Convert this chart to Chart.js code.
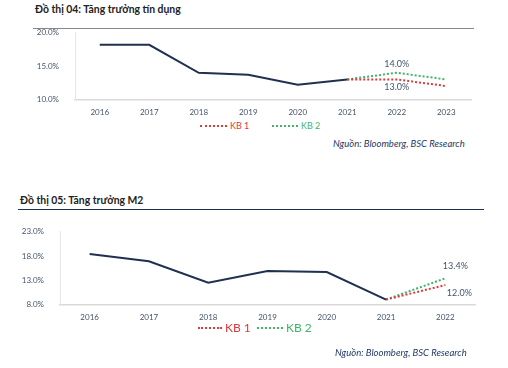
<!DOCTYPE html>
<html><head><meta charset="utf-8">
<script src="https://cdn.jsdelivr.net/npm/chart.js@4"></script>
<style>
html,body{margin:0;padding:0;background:#fff;width:508px;height:368px;overflow:hidden;font-family:Lato,"Open Sans",sans-serif;}
.abs{position:absolute;}
.title{font-weight:bold;font-size:10.4px;color:#222;}
.rule{height:1px;background:#555;}
.src{font-style:italic;font-size:9.5px;color:#1f3864;white-space:nowrap;}
.leg{font-size:9px;display:flex;align-items:center;white-space:nowrap;}
.dash{display:inline-block;border-top:2px dotted;margin-right:3px;}
canvas{display:block;}
</style></head>
<body>
<div class="abs title" style="left:35px;top:3px;">Đồ thị 04: Tăng trưởng tín dụng</div>
<div class="abs rule" style="left:33px;top:28px;width:441px;background:#888;"></div>
<div class="abs" style="left:0;top:20px;width:508px;height:97px;"><canvas id="c1" width="508" height="97"></canvas></div>
<div class="abs leg" style="left:200px;top:120px;color:#e0393b;"><span class="dash" style="width:27px;border-color:#e0393b;"></span>KB 1</div>
<div class="abs leg" style="left:272px;top:120px;color:#3fb46a;"><span class="dash" style="width:26px;border-color:#3fb46a;"></span>KB 2</div>
<div class="abs src" style="left:333px;top:138px;">Nguồn: Bloomberg, BSC Research</div>

<div class="abs title" style="left:20px;top:194px;">Đồ thị 05: Tăng trưởng M2</div>
<div class="abs rule" style="left:18px;top:209px;width:466px;background:#1f3050;"></div>
<div class="abs" style="left:0;top:219px;width:508px;height:103px;"><canvas id="c2" width="508" height="103"></canvas></div>
<div class="abs leg" style="left:198px;top:320px;color:#e0393b;font-size:12px;"><span class="dash" style="width:24px;border-color:#e0393b;"></span>KB 1</div>
<div class="abs leg" style="left:257px;top:320px;color:#3fb46a;font-size:12px;"><span class="dash" style="width:26px;border-color:#3fb46a;"></span>KB 2</div>
<div class="abs src" style="left:335px;top:347px;">Nguồn: Bloomberg, BSC Research</div>

<script>
// Chart 04: credit growth (%)
const years1 = ["2016","2017","2018","2019","2020","2021","2022","2023"];
const credit = [18.2, 18.2, 14.0, 13.7, 12.2, 13.0, null, null];
const credit_kb1 = [null, null, null, null, null, 13.0, 13.0, 12.0];
const credit_kb2 = [null, null, null, null, null, 13.0, 14.0, 13.0];
const ticks1 = [10, 15, 20];

// Chart 05: M2 growth (%)
const years2 = ["2016","2017","2018","2019","2020","2021","2022"];
const m2 = [18.4, 16.9, 12.5, 14.9, 14.7, 9.0, null];
const m2_kb1 = [null, null, null, null, null, 9.0, 12.0];
const m2_kb2 = [null, null, null, null, null, 9.0, 13.4];
const ticks2 = [8, 13, 18, 23];

const NAVY = "#1f3050", RED = "#e0393b", GREEN = "#3fb46a", AXT = "#44546a";
Chart.defaults.font.family = "Lato, 'Open Sans', sans-serif";
Chart.defaults.animation = false;

const labelPlugin = {
  id: "ptlabels",
  afterDatasetsDraw(chart, args, opts) {
    const ctx = chart.ctx;
    ctx.save();
    ctx.font = "9px Lato, 'Open Sans', sans-serif";
    ctx.fillStyle = AXT;
    ctx.textAlign = "center";
    ctx.textBaseline = "middle";
    (opts.items || []).forEach(it => {
      const meta = chart.getDatasetMeta(it.ds);
      const el = meta.data[it.i];
      const v = chart.data.datasets[it.ds].data[it.i];
      ctx.fillText(v.toFixed(1) + "%", el.x + it.dx, el.y + it.dy);
    });
    ctx.restore();
  }
};

function makeChart(id, labels, main, kb1, kb2, tks, yw, padR, padT, items) {
  return new Chart(document.getElementById(id), {
    type: "line",
    data: {
      labels,
      datasets: [
        {data: main, borderColor: NAVY, borderWidth: 2, pointRadius: 0, tension: 0},
        {data: kb1, borderColor: RED, borderWidth: 2, borderDash: [2, 2], pointRadius: 0},
        {data: kb2, borderColor: GREEN, borderWidth: 2, borderDash: [2, 2], pointRadius: 0}
      ]
    },
    options: {
      responsive: false,
      layout: {padding: {top: padT, right: padR, left: 0, bottom: 0}},
      plugins: {legend: {display: false}, tooltip: {enabled: false}, ptlabels: {items}},
      scales: {
        x: {
          offset: true,
          grid: {display: false},
          border: {display: true, color: "#d9d9d9", width: 1.5},
          ticks: {color: AXT, font: {size: 8}, padding: 0, maxRotation: 0}
        },
        y: {
          min: tks[0], max: tks[tks.length - 1],
          afterBuildTicks: s => { s.ticks = tks.map(v => ({value: v})); },
          afterFit: s => { s.width = yw; },
          grid: {display: false},
          border: {display: true, color: "#e6e6e6", width: 1},
          ticks: {color: AXT, font: {size: 8}, padding: 8, callback: v => Number(v).toFixed(1) + "%"}
        }
      }
    },
    plugins: [labelPlugin]
  });
}

makeChart("c1", years1, credit, credit_kb1, credit_kb2, ticks1, 75, 37, 6,
  [{ds: 2, i: 6, dx: 0, dy: -9}, {ds: 1, i: 6, dx: 0, dy: 8}]);
makeChart("c2", years2, m2, m2_kb1, m2_kb2, ticks2, 60, 33, 3,
  [{ds: 2, i: 6, dx: 10, dy: -12}, {ds: 1, i: 6, dx: 14, dy: 8}]);
</script>
</body></html>
